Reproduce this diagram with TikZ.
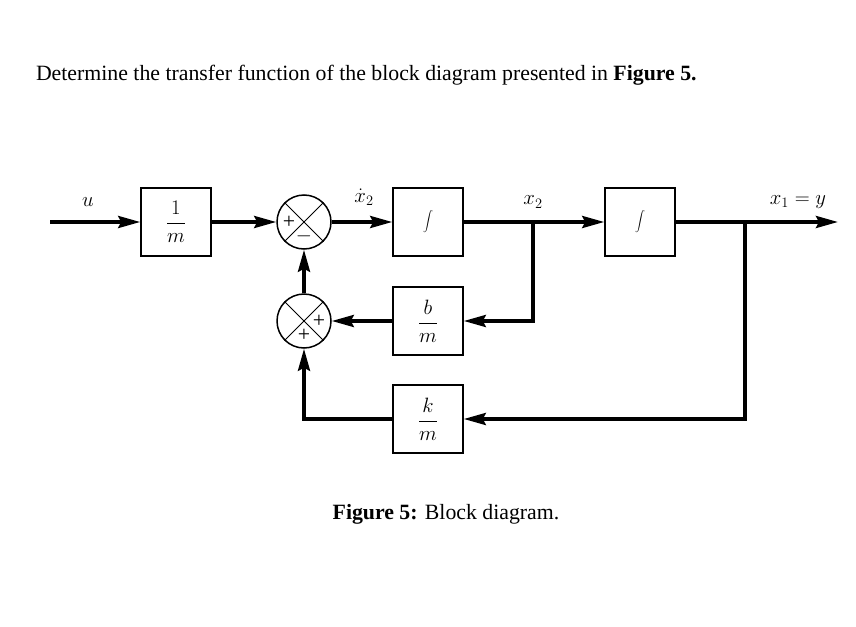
\documentclass[tikz,border=0pt]{standalone}
\usepackage{fontspec}
\setmainfont{Liberation Serif}
\usetikzlibrary{arrows.meta,positioning}
\begin{document}
\begin{tikzpicture}[x=1pt,y=-1pt,font=\fontsize{21.8}{26}\selectfont]
	\tikzstyle{block} = [draw, line width=1.5pt, minimum width=70pt, minimum height=68pt, inner sep=0]
	\tikzstyle{summer} = [draw, circle, line width=1.5pt, minimum size=54pt, inner sep=0]
	\tikzstyle{sig} = [-{Stealth[length=22pt,width=12pt,inset=3pt]}, line width=3.5pt]
	\tikzstyle{invisible} = [outer sep=0,inner sep=0,minimum size=0]
	\useasboundingbox (0,0) rectangle (856,626);
	\node [invisible, anchor=base west] (title) at (36,80) {Determine the transfer function of the block diagram presented in \textbf{Figure 5.}};
	\node [block] (gain) at (176,222) {$\displaystyle\frac{1}{m}$};
	\node [summer] (s1) at (304,222) {};
	\node [block] (int1) at (428,222) {\Large$\displaystyle\int$};
	\node [block] (bm) at (428,321) {$\displaystyle\frac{b}{m}$};
	\node [block] (km) at (428,419) {$\displaystyle\frac{k}{m}$};
	\node [summer] (s2) at (304,321) {};
	\node [block] (int2) at (640,222) {\Large$\displaystyle\int$};
	\coordinate (in) at (50,222);
	\coordinate (out) at (838,222);
	\coordinate (b1) at (533,222);
	\coordinate (b2) at (745,222);
	% crosses in the summers
	\foreach \s in {s1,s2} {
		\draw [line width=1pt] (\s.45) -- (\s.225);
		\draw [line width=1pt] (\s.135) -- (\s.315);
	}
	\node [invisible] at ([xshift=-15pt]s1.center) {+};
	\node [invisible] at ([yshift=-14pt]s1.center) {$-$};
	\node [invisible] at ([xshift=15pt]s2.center) {+};
	\node [invisible] at ([yshift=-14pt]s2.center) {+};
	% forward path
	\draw [sig] (in) -- (gain);
	\draw [sig] (gain) -- (s1);
	\draw [sig] (s1) -- (int1);
	\draw [sig] (int1) -- (int2);
	\draw [sig] (int2) -- (out);
	% feedback
	\draw [sig] (b1) |- (bm);
	\draw [sig] (b2) |- (km);
	\draw [sig] (bm) -- (s2);
	\draw [sig] (km) -| (s2);
	\draw [sig] (s2) -- (s1);
	% labels
	\node [invisible] at (88,202) {$u$};
	\node [invisible] at (364,197) {$\dot{x}_2$};
	\node [invisible] at (533,202) {$x_2$};
	\node [invisible] at (798,202) {$x_1 = y$};
	\node [invisible] (caption) at (446,514) {\textbf{Figure 5:} Block diagram.};
\end{tikzpicture}
\end{document}
